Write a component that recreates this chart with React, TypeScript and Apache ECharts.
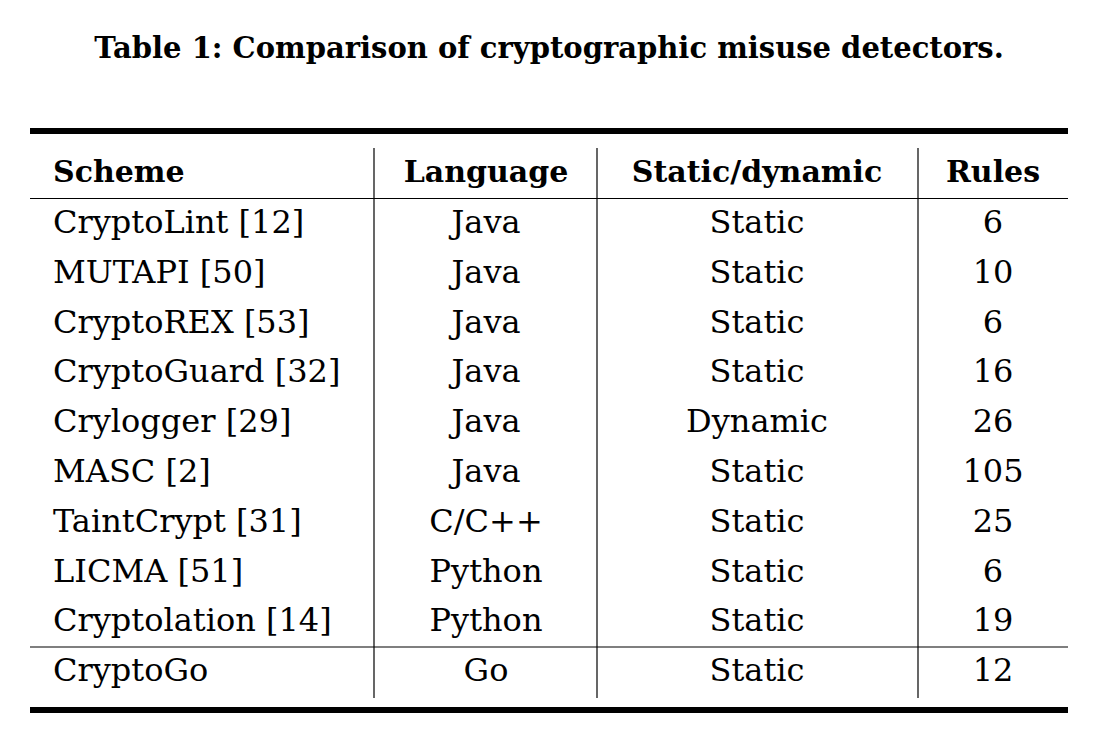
import { useEffect, useRef } from 'react';
import * as echarts from 'echarts';

const title = 'Table 1: Comparison of cryptographic misuse detectors.';
const headers = ['Scheme', 'Language', 'Static/dynamic', 'Rules'];
const schemes = ['CryptoLint [12]', 'MUTAPI [50]', 'CryptoREX [53]', 'CryptoGuard [32]', 'Crylogger [29]', 'MASC [2]', 'TaintCrypt [31]', 'LICMA [51]', 'Cryptolation [14]', 'CryptoGo'];
const languages = ['Java', 'Java', 'Java', 'Java', 'Java', 'Java', 'C/C++', 'Python', 'Python', 'Go'];
const kinds = ['Static', 'Static', 'Static', 'Static', 'Dynamic', 'Static', 'Static', 'Static', 'Static', 'Static'];
const rules = ['6', '10', '6', '16', '26', '105', '25', '6', '19', '12'];

const FONT = '"DejaVu Serif", "Liberation Serif", serif';
const LEFT = 30;
const RIGHT = 1068;
const colX = [53, 486, 757, 993];
const colAlign = ['left', 'center', 'center', 'center'];
const dividers = [374, 597, 918];
const headerY = 171;
const firstRowY = 222;
const rowStep = 49.8;

export default function App() {
  const chartRef = useRef<HTMLDivElement>(null);

  useEffect(() => {
    if (!chartRef.current) return;
    const chart = echarts.init(chartRef.current, null, { renderer: 'svg' });

    const graphic: any[] = [];
    // 标题
    graphic.push({
      type: 'text', x: 549, y: 48,
      style: { text: title, font: `bold 29px ${FONT}`, fill: '#000', align: 'center', verticalAlign: 'middle' }
    });

    const line = (x1: number, y1: number, x2: number, y2: number, w: number) => ({
      type: 'line', shape: { x1, y1, x2, y2 }, style: { stroke: '#000', lineWidth: w }
    });

    graphic.push(line(LEFT, 131, RIGHT, 131, 6));
    graphic.push(line(LEFT, 198.5, RIGHT, 198.5, 1.2));
    graphic.push(line(LEFT, 647, RIGHT, 647, 1.2));
    graphic.push(line(LEFT, 710, RIGHT, 710, 6));
    dividers.forEach(x => graphic.push(line(x, 148, x, 698, 1.2)));

    headers.forEach((h, i) => {
      graphic.push({
        type: 'text', x: colX[i], y: headerY,
        style: { text: h, font: `bold 30px ${FONT}`, fill: '#000', align: colAlign[i], verticalAlign: 'middle' }
      });
    });

    schemes.forEach((s, r) => {
      const y = r === schemes.length - 1 ? 670 : firstRowY + r * rowStep;
      [s, languages[r], kinds[r], rules[r]].forEach((t, i) => {
        graphic.push({
          type: 'text', x: colX[i], y,
          style: { text: t, font: `32px ${FONT}`, fill: '#000', align: colAlign[i], verticalAlign: 'middle' }
        });
      });
    });

    chart.setOption({ animation: false, backgroundColor: '#fff', graphic });

    return () => chart.dispose();
  }, []);

  return (
    <div
      ref={chartRef}
      style={{ position: 'fixed', left: 0, top: 0, width: '1098px', height: '754px' }}
    />
  );
}
